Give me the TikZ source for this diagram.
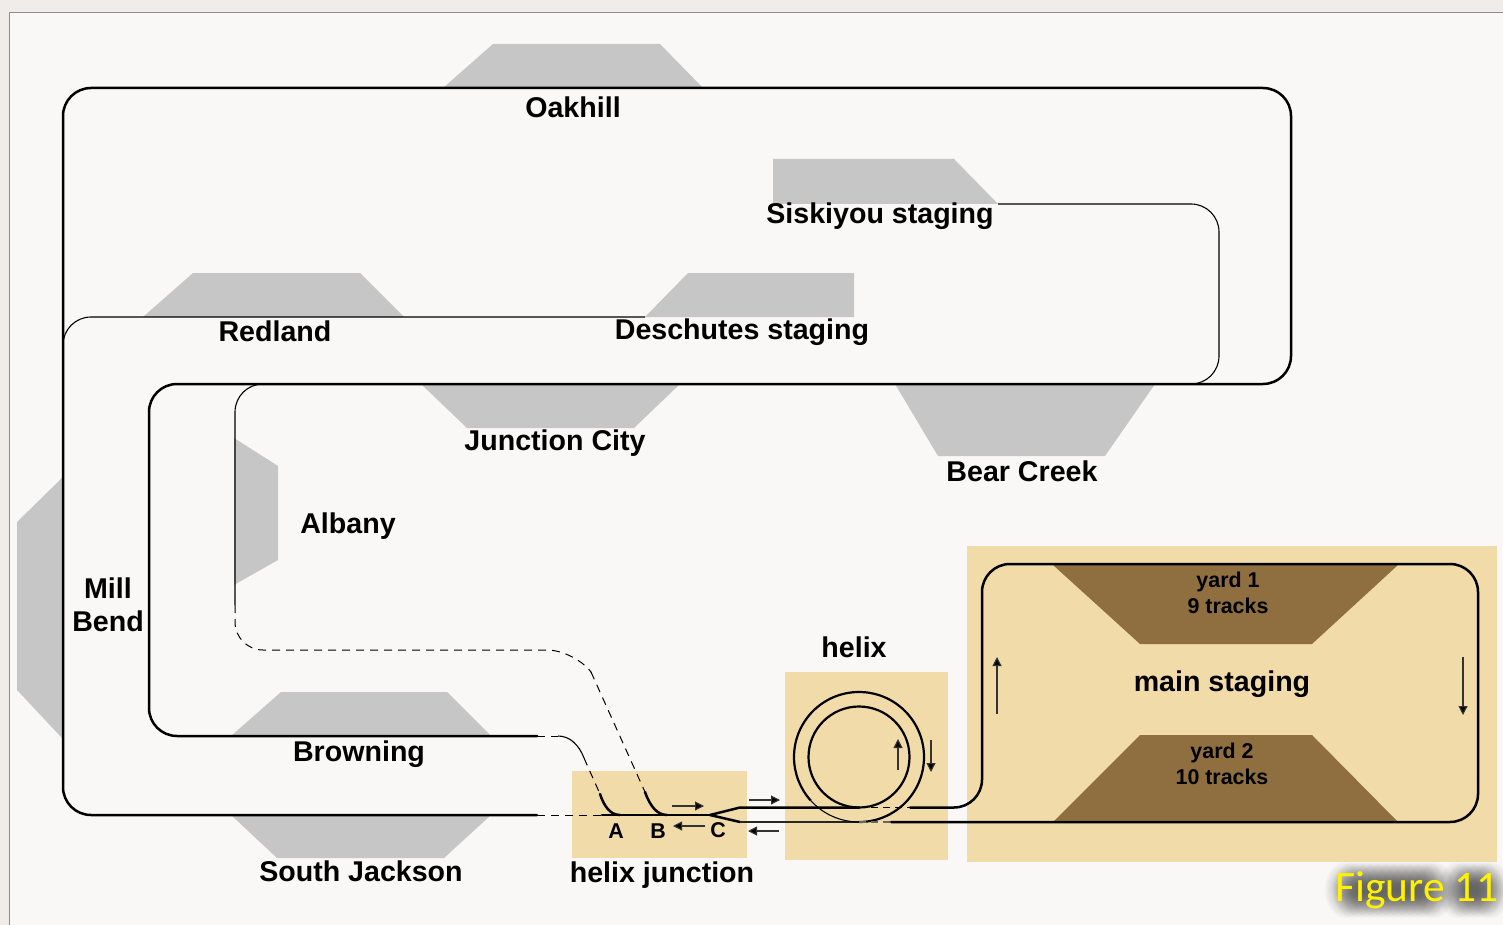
\documentclass[tikz,border=0pt]{standalone}
\usepackage{fontspec}
\setmainfont{Liberation Sans}
\newfontfamily\figfont{Carlito}
\usetikzlibrary{arrows.meta}
\definecolor{pagebg}{HTML}{F9F8F6}
\definecolor{outerbg}{HTML}{EFECE9}
\definecolor{stn}{HTML}{C6C6C6}
\definecolor{tan}{HTML}{F1DBA9}
\definecolor{yardc}{HTML}{8F6F40}
\tikzset{
  x=1pt,y=-1pt,
  station/.style={fill=stn,draw=none},
  panel/.style={fill=tan,draw=none},
  yardshape/.style={fill=yardc,draw=none},
  lbl/.style={font=\fontsize{28.6}{33.4}\selectfont\bfseries,inner sep=0pt,align=center},
  smalllbl/.style={font=\fontsize{21.4}{25.6}\selectfont\bfseries,inner sep=0pt,align=center},
  heavy/.style={line width=2.5pt,black,line cap=round},
  fine/.style={line width=1.1pt,black},
  dashline/.style={line width=1pt,black,dash pattern=on 8pt off 6pt},
  flow/.style={line width=1.1pt,black!80,-{Triangle[length=9pt,width=9pt,fill=black]}},
}
\begin{document}
\begin{tikzpicture}
\useasboundingbox (0,0) rectangle (1503,925);
\fill[outerbg] (0,0) rectangle (1503,925);
\fill[pagebg,draw=black!45,line width=1.2pt] (9.5,12.5) rectangle (1510,935);
% stations
\fill[station] (443,88)--(493,44)--(660,44)--(703,88)--cycle;
\fill[station] (773,204)--(773,159)--(954,159)--(998,204)--cycle;
\fill[station] (143,317)--(193,273)--(360,273)--(404,317)--cycle;
\fill[station] (645,317)--(688,273)--(854,273)--(854,317)--cycle;
\fill[station] (421,384)--(680,384)--(634,428)--(467,428)--cycle;
\fill[station] (895,384)--(1155,384)--(1105,456)--(938,456)--cycle;
\fill[station] (234,438)--(278,466)--(278,560)--(234,585)--cycle;
\fill[station] (62,478)--(17,522)--(17,690)--(62,738)--cycle;
\fill[station] (231,736)--(281,692)--(447,692)--(491,736)--cycle;
\fill[station] (231,815)--(491,815)--(444,858)--(277,858)--cycle;
% tan panels
\fill[panel] (572,771) rectangle (747,858);
\fill[panel] (785,672) rectangle (948,860);
\fill[panel] (967,546) rectangle (1497,862);
\fill[yardshape] (1053,565)--(1398,565)--(1312,644)--(1140,644)--cycle;
\fill[yardshape] (1053,822)--(1140,735)--(1312,735)--(1398,822)--cycle;
% named points
\coordinate (sjEnd) at (537,815);
\coordinate (brEnd) at (537,736);
\coordinate (swA) at (620,815);
\coordinate (swB) at (667,815);
\coordinate (swC) at (710,815);
\coordinate (upIn) at (740,807.5);
\coordinate (loIn) at (740,822);
\coordinate (upOut) at (910,807.5);
\coordinate (loOut) at (891,822);
\coordinate (hBot) at (859,822);
\coordinate (hIn) at (859,807.5);
% main loop
\draw[heavy,rounded corners=28] (sjEnd)--(63,815)--(63,88)--(1291,88)--(1291,384)--(149,384)--(149,736)--(brEnd);
% thin branches
\draw[fine,rounded corners=28] (998,204)--(1219,204)--(1219,384)--(1190,384);
\draw[fine,rounded corners=28] (63,345)--(63,317)--(645,317);
\draw[fine,rounded corners=28] (262,384)--(235,384)--(235,605);
\draw[dashline,rounded corners=28] (235,605)--(235,650)--(575,650)--(591,672);
\draw[dashline] (591,672)--(645,792);
\draw[dashline] (537,736)--(558,736);
\draw[fine] (558,736) .. controls (570,736) and (579,745) .. (584,758);
\draw[dashline] (584,758)--(600,794);
\draw[dashline] (537,815)--(602,815);
% helix junction
\draw[heavy] (602,815)--(swC);
\draw[heavy] (600,794) .. controls (604,806) and (610,815) .. (swA);
\draw[heavy] (645,792) .. controls (650,806) and (657,815) .. (swB);
\draw[heavy,line join=round] (swC)--(upIn)--(hIn);
\draw[heavy,line join=round] (swC)--(loIn);
\draw[line width=1.5pt,black!85] (loIn)--(hBot);
% helix
\draw[line width=2.2pt] (859,757) circle[radius=50.5];
\draw[line width=2.2pt] (hBot) arc[start angle=90,end angle=-222,radius=65];
\draw[fine] (hBot) arc[start angle=90,end angle=138,radius=65];
\draw[line width=1pt,black,dash pattern=on 7pt off 5pt] (hIn)--(upOut);
\draw[line width=1.2pt,black!60,dash pattern=on 7pt off 5pt] (hBot)--(loOut);
% yard loop
\draw[heavy,rounded corners=28] (upOut)--(982,807.5)--(982,564)--(1478,564)--(1478,822)--(loOut);
% arrows
\draw[flow] (672,806)--(704,806);
\draw[flow] (705,826)--(673,826);
\draw[flow] (749,800)--(780,800);
\draw[flow] (779,831)--(748,831);
\draw[flow] (898,770)--(898,739);
\draw[flow] (931,740)--(931,772);
\draw[flow] (997,714)--(997,657);
\draw[flow] (1463,657)--(1463,715);
% labels
\node[lbl] (oak) at (573,107) {Oakhill};
\node[lbl] (sis) at (880,216) {Siskiyou staging};
\node[lbl] (red) at (275,331) {Redland};
\node[lbl] (des) at (742,332) {Deschutes staging};
\node[lbl] (jun) at (555,443) {Junction City};
\node[lbl] (bear) at (1022,471) {Bear Creek};
\node[lbl] (alb) at (348,526) {Albany};
\node[lbl] (mill) at (108,605) {Mill\\Bend};
\node[lbl] (bro) at (359,754) {Browning};
\node[lbl] (sj) at (361,871) {South Jackson};
\node[lbl] (hj) at (662,875) {helix junction};
\node[lbl] (hel) at (854,647) {helix};
\node[lbl] (ms) at (1222,684) {main staging};
\node[smalllbl] (y1) at (1228,593) {yard 1\\9 tracks};
\node[smalllbl] (y2) at (1222,764) {yard 2\\10 tracks};
\node[smalllbl] (na) at (616,831) {A};
\node[smalllbl] (nb) at (658,831) {B};
\node[smalllbl] (nc) at (718,830) {C};
% glow behind the figure caption
\foreach \px in {1346,1354,...,1434,1458,1466,...,1490}
  \foreach \rr in {28,26,...,8}
    \fill[black!80,opacity=0.03] (\px,890) ellipse[x radius=\rr*0.75,y radius=\rr];
\node[inner sep=0pt,text=yellow,font=\figfont\fontsize{43.5}{47}\selectfont] (fig) at (1417,890) {Figure 11};
\end{tikzpicture}
\end{document}
